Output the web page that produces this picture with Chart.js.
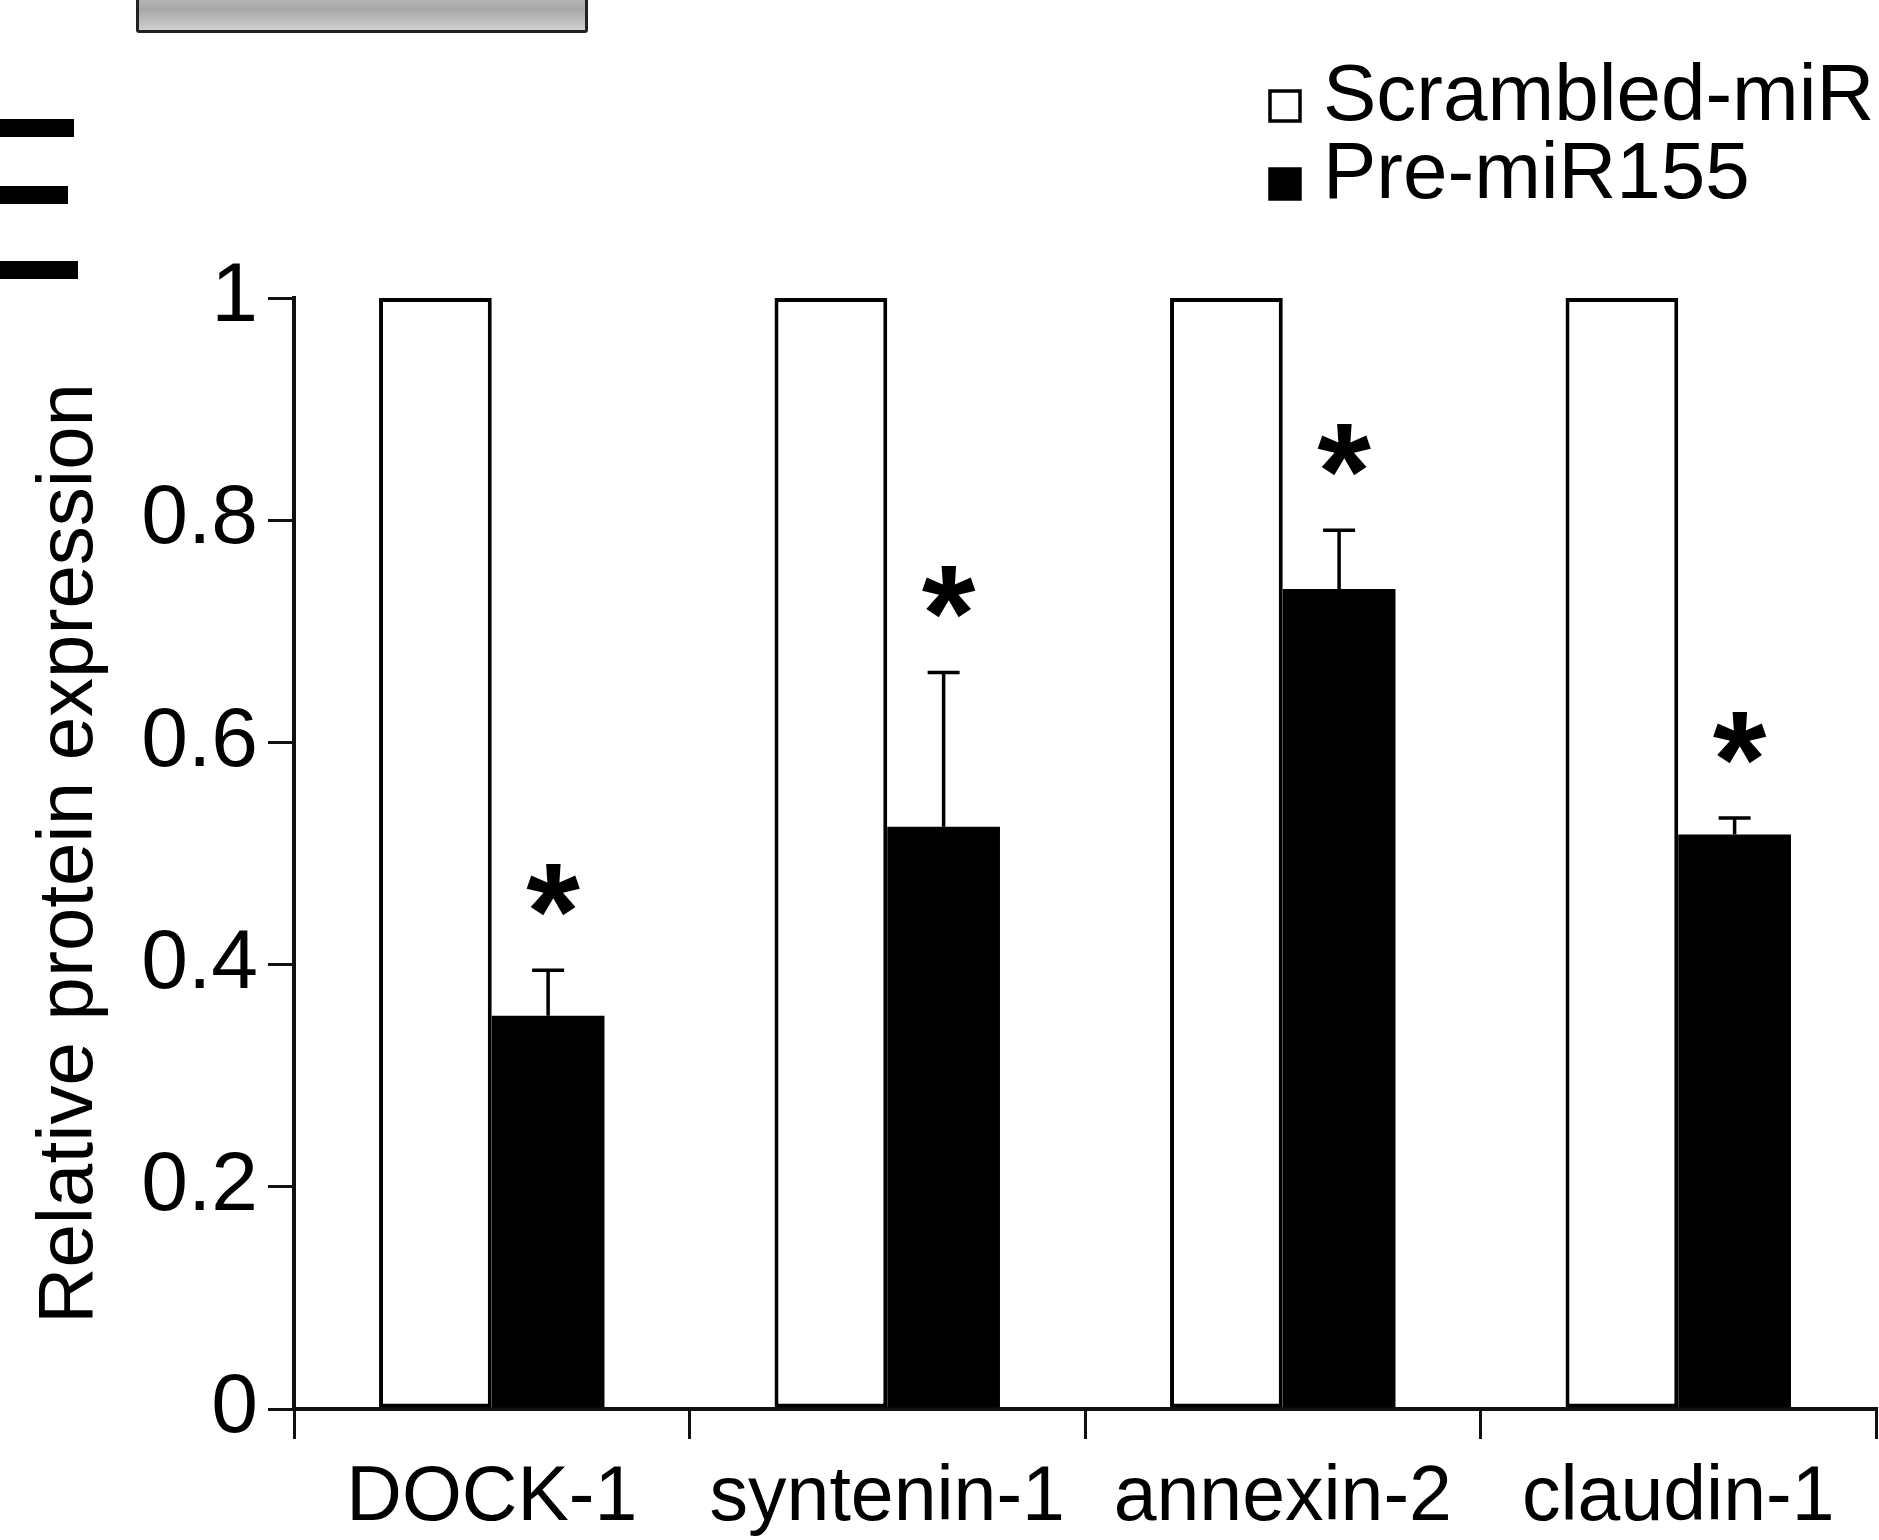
<!DOCTYPE html>
<html>
<head>
<meta charset="utf-8">
<script src="https://cdn.jsdelivr.net/npm/chart.js@4/dist/chart.umd.min.js"></script>
<style>
  html, body { margin: 0; padding: 0; background: #fff; }
  #wrap { position: relative; width: 1879px; height: 1540px; overflow: hidden; }
  /* leftovers of the neighbouring panel in the figure */
  .frag-box { position: absolute; left: 136px; top: -40px; width: 446px; height: 67px;
    border: 3px solid #222; border-radius: 3px;
    background: linear-gradient(#d8d8d8, #a8a8a8 70%, #cfcfcf); }
  .frag-bar { position: absolute; left: 0; height: 18px; background: #000; }
  canvas { position: absolute; left: 0; top: 0; }
</style>
</head>
<body>
<div id="wrap">
  <div class="frag-box"></div>
  <div class="frag-bar" style="top:119px;width:74px"></div>
  <div class="frag-bar" style="top:186px;width:68px"></div>
  <div class="frag-bar" style="top:261px;width:78px"></div>
  <canvas id="chart"></canvas>
</div>
<script>
const categories = ['DOCK-1', 'syntenin-1', 'annexin-2', 'claudin-1'];
const scrambled = [1, 1, 1, 1];
const preMiR155 = [0.354, 0.524, 0.738, 0.517];
const preMiR155Err = [0.041, 0.139, 0.053, 0.015];
const significant = [true, true, true, true];
const yTicks = [0, 0.2, 0.4, 0.6, 0.8, 1];

const FONT = '"Liberation Sans", Arial, sans-serif';

// barras de erro (só para cima) e asteriscos
const errorBarsPlugin = {
    id: 'errorBars',
    afterDatasetsDraw(chart) {
        const ctx = chart.ctx;
        const y = chart.scales.y;
        const meta = chart.getDatasetMeta(1);
        ctx.save();
        ctx.strokeStyle = '#000';
        ctx.fillStyle = '#000';
        ctx.lineWidth = 3.5;
        meta.data.forEach((bar, i) => {
            const top = y.getPixelForValue(preMiR155[i] + preMiR155Err[i]);
            ctx.beginPath();
            ctx.moveTo(bar.x, bar.y);
            ctx.lineTo(bar.x, top);
            ctx.moveTo(bar.x - 16, top);
            ctx.lineTo(bar.x + 16, top);
            ctx.stroke();
            if (significant[i]) {
                ctx.font = 'bold 138px ' + FONT;
                ctx.textAlign = 'center';
                ctx.textBaseline = 'alphabetic';
                const m = ctx.measureText('*');
                const mid = (m.actualBoundingBoxAscent - m.actualBoundingBoxDescent) / 2;
                ctx.fillText('*', bar.x + 5, top - 80 + mid);
            }
        });
        ctx.restore();
    }
};

// legenda em duas linhas, canto superior direito
const legendPlugin = {
    id: 'stackedLegend',
    afterDraw(chart) {
        const ctx = chart.ctx;
        const x0 = 1270, rows = [106, 184], box = 30;
        ctx.save();
        ctx.font = '80px ' + FONT;
        ctx.textBaseline = 'middle';
        ctx.textAlign = 'left';
        chart.data.datasets.forEach((ds, i) => {
            const cy = rows[i];
            ctx.fillStyle = ds.backgroundColor;
            ctx.fillRect(x0, cy - box / 2, box, box);
            ctx.lineWidth = 3.5;
            ctx.strokeStyle = '#000';
            ctx.strokeRect(x0, cy - box / 2, box, box);
            ctx.fillStyle = '#000';
            ctx.fillText(ds.label, x0 + 53, cy - 8);
        });
        ctx.restore();
    }
};

new Chart(document.getElementById('chart'), {
    type: 'bar',
    data: {
        labels: categories,
        datasets: [
            {
                label: 'Scrambled-miR',
                data: scrambled,
                backgroundColor: '#ffffff',
                borderColor: '#000',
                borderWidth: 4,
                borderSkipped: false
            },
            {
                label: 'Pre-miR155',
                data: preMiR155,
                backgroundColor: '#000000',
                borderColor: '#000',
                borderWidth: 0
            }
        ]
    },
    options: {
        responsive: true,
        maintainAspectRatio: false,
        animation: false,
        events: [],
        layout: { padding: { top: 298, right: 3, bottom: 0, left: 0 } },
        datasets: { bar: { categoryPercentage: 0.57, barPercentage: 1 } },
        plugins: {
            legend: { display: false },
            tooltip: { enabled: false }
        },
        scales: {
            x: {
                offset: true,
                grid: { display: true, offset: true, drawOnChartArea: false, drawTicks: true,
                        tickLength: 30, color: '#111', lineWidth: 3 },
                border: { display: true, color: '#111', width: 4 },
                ticks: { color: '#000', font: { family: FONT, size: 77 }, padding: 14, maxRotation: 0 },
                afterFit(scale) { scale.height = 131; }
            },
            y: {
                min: 0,
                max: 1,
                afterBuildTicks(scale) { scale.ticks = yTicks.map(v => ({ value: v })); },
                grid: { drawOnChartArea: false, drawTicks: true, tickLength: 26, color: '#111', lineWidth: 3 },
                border: { display: true, color: '#111', width: 4 },
                ticks: {
                    color: '#000',
                    font: { family: FONT, size: 84 },
                    padding: 10,
                    callback: (v) => String(v)
                },
                title: {
                    display: true,
                    text: 'Relative protein expression',
                    color: '#000',
                    font: { family: FONT, size: 78 },
                    padding: { top: 24, bottom: 0 }
                },
                afterFit(scale) { scale.width = 294; }
            }
        }
    },
    plugins: [errorBarsPlugin, legendPlugin]
});
</script>
</body>
</html>
